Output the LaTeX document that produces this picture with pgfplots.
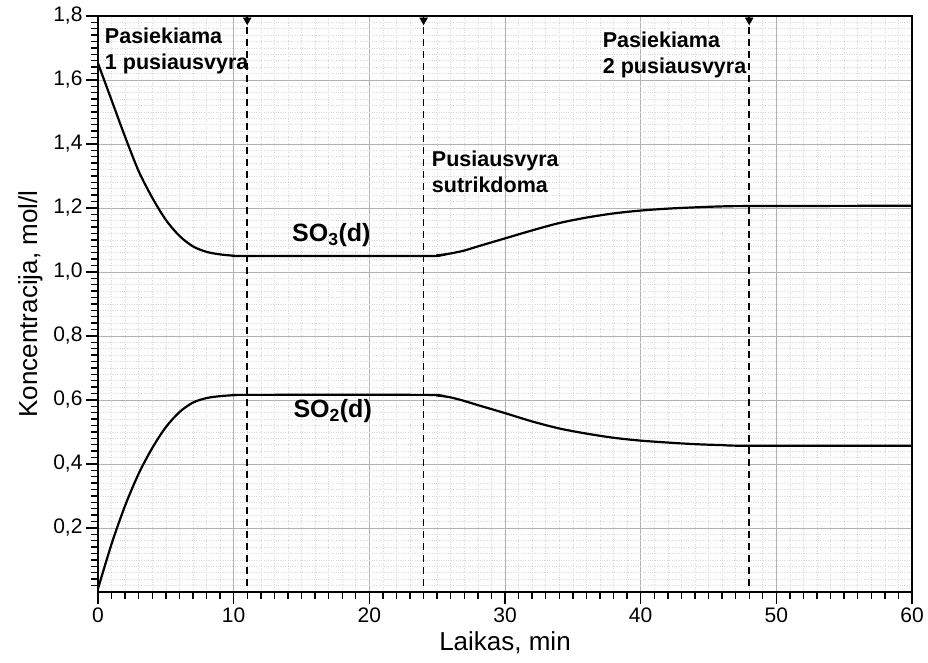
\documentclass[border=0pt]{standalone}
\usepackage{fontspec}
\setmainfont{Liberation Sans}
\usepackage{pgfplots}
\pgfplotsset{compat=1.18}

\begin{document}
\begin{tikzpicture}
\useasboundingbox (-98pt,-71pt) rectangle (830pt,592pt);
\begin{axis}[
  at={(0,0)}, anchor=south west,
  scale only axis,
  width=814pt, height=576pt,
  xmin=0, xmax=60, ymin=0, ymax=1.8,
  xtick={0,10,...,60},
  ytick={0.2,0.4,0.6,0.8,1.0,1.2,1.4,1.6,1.8},
  minor xtick={1,2,...,59},
  minor ytick={0.02,0.04,...,1.79},
  xtick pos=bottom, ytick pos=left,
  tick align=outside,
  major tick length=12pt, minor tick length=7pt,
  major tick style={draw=black, line width=1.6pt},
  minor tick style={draw=black, line width=1.4pt},
  axis line style={line width=2pt},
  xmajorgrids, ymajorgrids, xminorgrids, yminorgrids,
  major grid style={gray!60, line width=0.9pt},
  minor grid style={gray!30, dotted, line width=0.6pt},
  ticklabel style={font=\fontsize{21}{23}\selectfont},
  /pgf/number format/assume math mode=true,
  /pgf/number format/use comma,
  yticklabel style={/pgf/number format/fixed, /pgf/number format/fixed zerofill, /pgf/number format/precision=1},
  xlabel={Laikas, min},
  ylabel={Koncentracija, mol/l},
  xlabel style={yshift=-2pt},
  ylabel style={yshift=4pt},
  label style={font=\fontsize{26}{28}\selectfont},
  clip mode=individual,
]
% SO3
\addplot[black, line width=2.2pt, smooth] coordinates {
  (0,1.652) (1,1.537) (2,1.422) (3,1.315) (4,1.232) (5,1.163) (6,1.113)
  (7,1.080) (8,1.063) (9,1.055) (10,1.051) (11,1.050) (24,1.050)
  (25,1.052) (26,1.058) (27,1.067) (28,1.080) (30,1.105) (32,1.130)
  (34,1.153) (36,1.170) (38,1.183) (40,1.192) (42,1.198) (44,1.202)
  (46,1.205) (48,1.206) (60,1.207)};
% SO2
\addplot[black, line width=2.2pt, smooth] coordinates {
  (0,0.010) (1,0.150) (2,0.270) (3,0.370) (4,0.450) (5,0.515) (6,0.562)
  (7,0.592) (8,0.606) (9,0.612) (10,0.615) (11,0.616) (24,0.616)
  (25,0.614) (26,0.608) (27,0.597) (28,0.584) (30,0.559) (32,0.533)
  (34,0.511) (36,0.495) (38,0.482) (40,0.473) (42,0.467) (44,0.462)
  (46,0.459) (48,0.457) (60,0.457)};
% dashed markers
\addplot[black, line width=1.5pt, dash pattern=on 7pt off 5pt] coordinates {(11,0.02) (11,1.8)};
\addplot[black, line width=1.5pt, dash pattern=on 7pt off 5pt] coordinates {(24,0.02) (24,1.8)};
\addplot[black, line width=1.5pt, dash pattern=on 7pt off 5pt] coordinates {(48,0.02) (48,1.8)};
\addplot[only marks, mark=triangle*, mark size=4.5pt, mark options={black, rotate=180}] coordinates {(11,1.787) (24,1.787) (48,1.787)};
% annotations
\node[anchor=north west, align=left, inner sep=0pt, font=\fontsize{21.5}{26}\selectfont\bfseries] at (axis cs:0.5,1.762) {Pasiekiama\\1 pusiausvyra};
\node[anchor=north west, align=left, inner sep=0pt, font=\fontsize{21.5}{26}\selectfont\bfseries] at (axis cs:24.6,1.38) {Pusiausvyra\\sutrikdoma};
\node[anchor=north west, align=left, inner sep=0pt, font=\fontsize{21.5}{26}\selectfont\bfseries] at (axis cs:37.2,1.75) {Pasiekiama\\2 pusiausvyra};
\node[anchor=base, inner sep=0pt, font=\fontsize{25}{27}\selectfont\bfseries] at (axis cs:17.2,1.095) {SO\textsubscript{3}(d)};
\node[anchor=base, inner sep=0pt, font=\fontsize{25}{27}\selectfont\bfseries] at (axis cs:17.3,0.544) {SO\textsubscript{2}(d)};
\end{axis}
\end{tikzpicture}
\end{document}
